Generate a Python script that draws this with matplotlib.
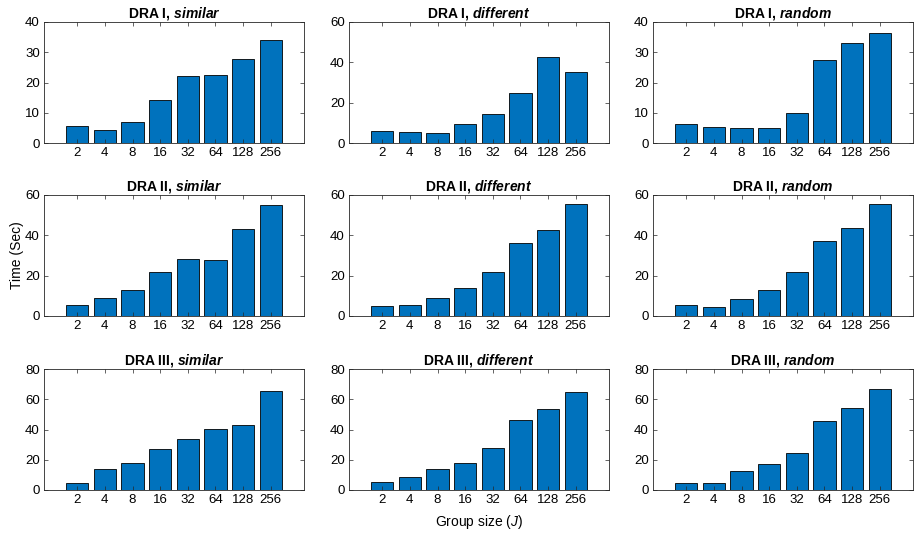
import numpy as np
import matplotlib
matplotlib.use('Agg')
import matplotlib.pyplot as plt

plt.rcParams['font.family'] = ['Liberation Sans', 'DejaVu Sans']
plt.rcParams['mathtext.fontset'] = 'custom'
plt.rcParams['mathtext.rm'] = 'Liberation Sans'
plt.rcParams['mathtext.it'] = 'Liberation Sans:italic'
plt.rcParams['mathtext.bf'] = 'Liberation Sans:bold'
plt.rcParams['mathtext.bfit'] = 'Liberation Sans:italic:bold'

group_sizes = ['2', '4', '8', '16', '32', '64', '128', '256']
methods = ['DRA I', 'DRA II', 'DRA III']
scenarios = ['similar', 'different', 'random']
ylims = [[40, 60, 40], [60, 60, 60], [80, 80, 80]]

# times in seconds
dra1_similar = [5.5, 4.3, 6.8, 14.3, 22.3, 22.6, 27.9, 34.0]
dra1_different = [6.1, 5.5, 5.2, 9.5, 14.6, 24.8, 42.7, 35.1]
dra1_random = [6.3, 5.4, 5.0, 5.1, 9.9, 27.4, 33.1, 36.2]
dra2_similar = [5.5, 8.9, 12.7, 21.7, 28.4, 27.6, 43.0, 55.2]
dra2_different = [4.8, 5.3, 8.8, 14.0, 21.7, 36.2, 42.5, 55.4]
dra2_random = [5.3, 4.6, 8.4, 12.7, 21.8, 37.0, 43.5, 55.5]
dra3_similar = [4.8, 13.7, 18.1, 27.3, 33.5, 40.1, 43.0, 65.2]
dra3_different = [5.1, 8.6, 13.7, 18.1, 28.0, 46.5, 53.3, 64.8]
dra3_random = [4.6, 4.4, 12.6, 17.0, 24.2, 45.4, 54.0, 66.5]

data = [[dra1_similar, dra1_different, dra1_random],
        [dra2_similar, dra2_different, dra2_random],
        [dra3_similar, dra3_different, dra3_random]]

W, H = 916, 535
fig = plt.figure(figsize=(W/100, H/100), dpi=100)
lefts = [44, 349, 653]
tops = [22, 195, 369]
aw, ah = 260, 121
dark = '#262626'

x = np.arange(1, 9)
for r in range(3):
    for c in range(3):
        ax = fig.add_axes([lefts[c]/W, 1-(tops[r]+ah)/H, aw/W, ah/H])
        ax.bar(x, data[r][c], width=0.8, color='#0072BD', edgecolor='black', linewidth=0.6)
        ymax = ylims[r][c]
        ax.set_xlim(-0.2, 9.2)
        ax.set_ylim(0, ymax)
        ax.set_yticks(np.arange(0, ymax+1, 10 if ymax == 40 else 20))
        ax.set_xticks(x)
        ax.set_xticklabels(group_sizes)
        ax.tick_params(direction='in', top=True, right=True, length=3, width=0.5,
                       labelsize=9.5, colors=dark, labelcolor='black', pad=3)
        for s in ax.spines.values():
            s.set_linewidth(0.6)
            s.set_color(dark)
        ax.set_title(r'%s, $\mathbfit{%s}$' % (methods[r], scenarios[c]),
                     fontsize=10, fontweight='bold', pad=3)

fig.text(17/W, 1-255/H, 'Time (Sec)', rotation=90, ha='center', va='center', fontsize=10)
fig.text(479/W, 1-522/H, r'Group size ($\mathit{J}$)', ha='center', va='center', fontsize=10)

fig.savefig('out.png', dpi=100)
